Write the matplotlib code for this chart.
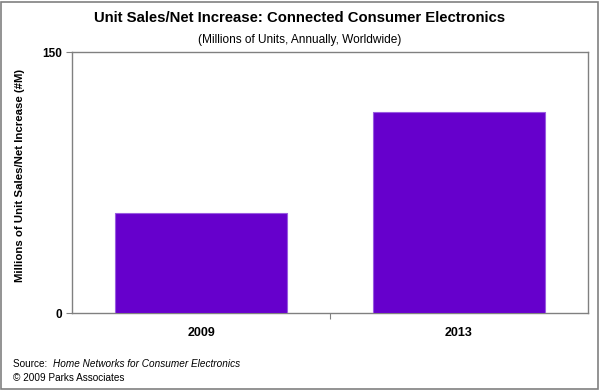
import matplotlib
matplotlib.use("Agg")
import matplotlib.pyplot as plt
from matplotlib.patches import Rectangle

plt.rcParams['font.family'] = ['Liberation Sans', 'DejaVu Sans']

categories = ["2009", "2013"]
values = [57.5, 115.5]
y_ticks = [0, 150]
title = "Unit Sales/Net Increase: Connected Consumer Electronics"
subtitle = "(Millions of Units, Annually, Worldwide)"
ylabel = "Millions of Unit Sales/Net Increase (#M)"

W, H = 600, 390
fig = plt.figure(figsize=(6, 3.9), dpi=100)
ax = fig.add_axes([72 / W, 1 - 313 / H, (588 - 72) / W, (313 - 52) / H])

x = list(range(len(categories)))
ax.bar(x, values, width=0.667, color="#6600CC", edgecolor="#9A5CE0", linewidth=0.8, zorder=3)
ax.set_xlim(-0.5, len(categories) - 0.5)
ax.set_ylim(0, 150)
ax.set_yticks(y_ticks)
ax.set_yticklabels([str(t) for t in y_ticks], fontsize=8.5, fontweight='bold')
ax.set_xticks([0.5])
ax.set_xticklabels([""])
ax.tick_params(axis='x', length=4, color="#808080")
ax.tick_params(axis='y', length=4, color="#808080", pad=3)
for i, c in enumerate(categories):
    ax.text(i, -0.075, c, transform=ax.get_xaxis_transform(), ha='center', va='center',
            fontsize=9, fontweight='bold')
for s in ax.spines.values():
    s.set_color("#808080")
    s.set_linewidth(1)

fig.text(0.5, 1 - 18.5 / H, title, ha='center', va='center', fontsize=10.7, fontweight='bold')
fig.text(0.5, 1 - 40 / H, subtitle, ha='center', va='center', fontsize=8.6)
fig.text(20 / W, 1 - 175 / H, ylabel, rotation=90, ha='center', va='center', fontsize=8.2, fontweight='bold')

fig.text(13 / W, 1 - 364 / H, "Source:  ", ha='left', va='center', fontsize=7.2)
fig.text(53 / W, 1 - 364 / H, "Home Networks for Consumer Electronics", ha='left', va='center',
         fontsize=7.2, style='italic')
fig.text(13 / W, 1 - 378 / H, "\u00a9 2009 Parks Associates", ha='left', va='center', fontsize=7.2)

fig.patches.append(Rectangle((1 / W, 1 / H), 597 / W, 387 / H, transform=fig.transFigure,
                             fill=False, edgecolor="#808080", linewidth=1.2))

fig.savefig("out.png", dpi=100)
